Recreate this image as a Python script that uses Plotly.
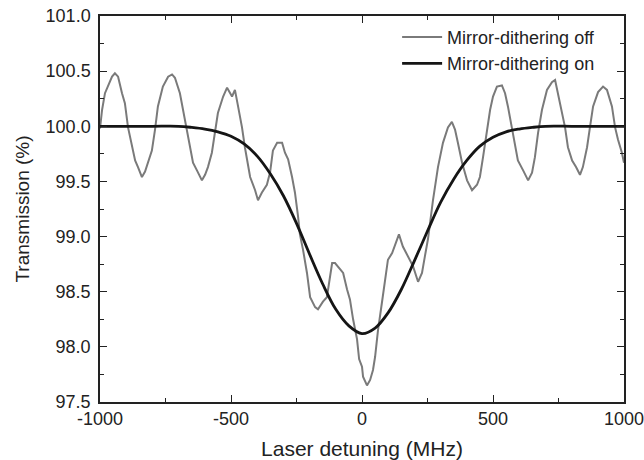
import plotly.graph_objects as go

# Mirror-dithering off (gray, oscillating trace)
off_x = [-1000, -992, -981, -969, -954, -943, -931, -916, -905, -893, -878, -866, -855, -840,
         -828, -817, -802, -790, -779, -760, -740, -725, -714, -695, -683, -668, -656, -645,
         -630, -611, -599, -588, -573, -561, -550, -530, -515, -496, -485, -473, -458, -447,
         -427, -408, -397, -382, -363, -351, -340, -324, -305, -294, -282, -267, -256, -244,
         -237, -225, -210, -198, -179, -168, -149, -134, -122, -114, -103, -84, -72, -57,
         -46, -34, -19, -11, 0, 4, 19, 31, 42, 50, 61, 76, 88, 99, 115, 134, 141, 156, 176,
         195, 214, 229, 240, 252, 271, 290, 309, 328, 343, 355, 366, 382, 401, 420, 439,
         450, 462, 477, 489, 500, 515, 534, 546, 557, 573, 584, 595, 615, 634, 649, 660,
         672, 687, 706, 725, 737, 748, 763, 775, 786, 802, 817, 832, 843, 859, 870, 882,
         901, 920, 935, 954, 966, 977, 992, 1000]
off_y = [99.98, 100.15, 100.30, 100.36, 100.45, 100.48, 100.45, 100.30, 100.21, 99.99, 99.81,
         99.69, 99.63, 99.54, 99.59, 99.67, 99.78, 99.97, 100.18, 100.36, 100.45, 100.47,
         100.44, 100.30, 100.15, 99.99, 99.81, 99.67, 99.60, 99.51, 99.56, 99.63, 99.76,
         99.94, 100.12, 100.27, 100.35, 100.27, 100.33, 100.18, 99.99, 99.81, 99.54, 99.42,
         99.33, 99.40, 99.47, 99.58, 99.78, 99.85, 99.85, 99.76, 99.70, 99.54, 99.40, 99.18,
         99.02, 98.88, 98.67, 98.45, 98.36, 98.34, 98.41, 98.45, 98.64, 98.76, 98.76, 98.70,
         98.67, 98.52, 98.43, 98.25, 98.07, 97.89, 97.82, 97.73, 97.65, 97.70, 97.79, 97.91,
         98.15, 98.40, 98.61, 98.79, 98.85, 98.97, 99.02, 98.91, 98.82, 98.73, 98.59, 98.67,
         98.82, 98.98, 99.33, 99.63, 99.85, 99.99, 100.04, 99.97, 99.85, 99.67, 99.51, 99.42,
         99.47, 99.54, 99.72, 99.97, 100.15, 100.27, 100.36, 100.37, 100.30, 100.18, 99.97,
         99.81, 99.69, 99.60, 99.51, 99.58, 99.72, 99.94, 100.15, 100.33, 100.40, 100.42,
         100.30, 100.15, 99.99, 99.81, 99.69, 99.63, 99.56, 99.63, 99.81, 99.99, 100.18,
         100.31, 100.36, 100.33, 100.18, 99.99, 99.88, 99.76, 99.67]

# Mirror-dithering on (black, smooth dip)
on_x = [-1000, -900, -800, -700, -650, -600, -550, -500, -450, -400, -350, -300, -250, -200,
        -150, -100, -50, 0, 50, 100, 150, 200, 250, 300, 350, 400, 450, 500, 550, 600, 650,
        700, 800, 900, 1000]
on_y = [100.0, 100.0, 100.0, 100.0, 99.99, 99.975, 99.95, 99.91, 99.84, 99.73, 99.57, 99.37,
        99.12, 98.84, 98.57, 98.34, 98.19, 98.12, 98.17, 98.31, 98.52, 98.78, 99.05, 99.31,
        99.52, 99.69, 99.82, 99.90, 99.95, 99.975, 99.99, 100.0, 100.0, 100.0, 100.0]

x_ticks = [-1000, -500, 0, 500, 1000]
x_ticklabels = ["-1000", "-500", "0", "500", "1000"]
y_ticks = [97.5, 98.0, 98.5, 99.0, 99.5, 100.0, 100.5, 101.0]
y_ticklabels = ["97.5", "98.0", "98.5", "99.0", "99.5", "100.0", "100.5", "101.0"]

FONT = "Liberation Sans, Arial, sans-serif"

fig = go.Figure()
fig.add_trace(go.Scatter(x=off_x, y=off_y, mode="lines", name="Mirror-dithering off",
                         line=dict(color="#7a7a7a", width=2)))
fig.add_trace(go.Scatter(x=on_x, y=on_y, mode="lines", name="Mirror-dithering on",
                         line=dict(color="#151515", width=2.8, shape="spline")))

axis_common = dict(showline=True, linecolor="#222", linewidth=1.5, mirror="allticks",
                   ticks="inside", ticklen=7, tickwidth=1.2, tickcolor="#222",
                   showgrid=False, zeroline=False, automargin=False,
                   ticklabeloverflow="allow",
                   tickfont=dict(family=FONT, size=18, color="#222"))

fig.update_xaxes(range=[-1000, 1000], tickvals=x_ticks, ticktext=x_ticklabels,
                 minor=dict(ticks="inside", ticklen=4, dtick=250, tickcolor="#222", tickwidth=1),
                 title=dict(text="Laser detuning (MHz)", font=dict(family=FONT, size=21, color="#222"),
                            standoff=14),
                 **axis_common)
fig.update_yaxes(range=[97.5, 101.0], tickvals=y_ticks, ticktext=y_ticklabels,
                 ticklabelstandoff=4,
                 minor=dict(ticks="inside", ticklen=4, dtick=0.25, tickcolor="#222", tickwidth=1),
                 title=dict(text="Transmission (%)", font=dict(family=FONT, size=19, color="#222"),
                            standoff=11),
                 **axis_common)

fig.update_layout(
    width=644, height=460,
    margin=dict(l=100, r=20, t=16, b=58),
    paper_bgcolor="white", plot_bgcolor="white",
    font=dict(family=FONT, color="#222"),
    legend=dict(x=0.567, y=0.993, xanchor="left", yanchor="top",
                bgcolor="rgba(0,0,0,0)", borderwidth=0, itemwidth=40,
                font=dict(family=FONT, size=18, color="#222"), tracegroupgap=0),
    showlegend=True,
)

fig.write_html("out.html")
